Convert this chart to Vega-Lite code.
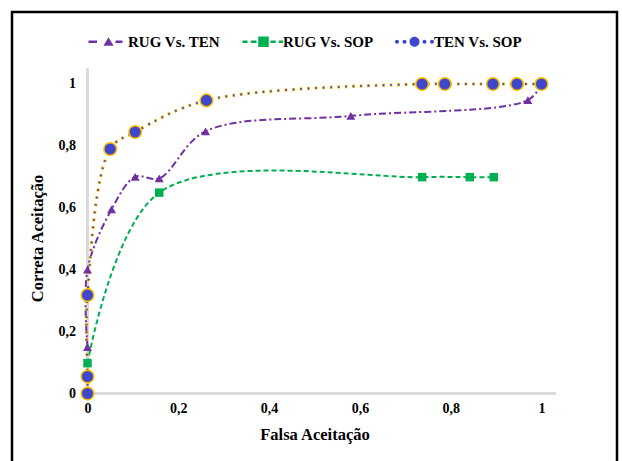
{
  "$schema": "https://vega.github.io/schema/vega-lite/v6.json",
  "width": 605,
  "height": 452,
  "autosize": {"type": "none"},
  "padding": {"left": 12, "top": 12, "right": 5, "bottom": 0},
  "background": "white",
  "config": {
    "view": {"stroke": "black", "strokeWidth": 2.5},
    "font": "Liberation Serif",
    "axis": {
      "labelFont": "Liberation Serif",
      "labelFontWeight": "bold",
      "labelFontSize": 14,
      "labelColor": "black",
      "titleFont": "Liberation Serif",
      "titleFontWeight": "bold",
      "titleFontSize": 16.5,
      "titleColor": "black",
      "grid": false,
      "domain": false,
      "ticks": false
    },
    "legend": {
      "labelFont": "Liberation Serif",
      "labelFontWeight": "bold",
      "labelFontSize": 15,
      "labelColor": "black"
    }
  },
  "data": {
    "values": [
      {"series": "RUG Vs. TEN", "i": 1, "x": 0, "y": 0.15},
      {"series": "RUG Vs. TEN", "i": 2, "x": 0, "y": 0.4},
      {"series": "RUG Vs. TEN", "i": 3, "x": 0.053, "y": 0.595},
      {"series": "RUG Vs. TEN", "i": 4, "x": 0.105, "y": 0.7},
      {"series": "RUG Vs. TEN", "i": 5, "x": 0.158, "y": 0.695},
      {"series": "RUG Vs. TEN", "i": 6, "x": 0.26, "y": 0.847},
      {"series": "RUG Vs. TEN", "i": 7, "x": 0.58, "y": 0.897},
      {"series": "RUG Vs. TEN", "i": 8, "x": 0.97, "y": 0.948},
      {"series": "RUG Vs. TEN", "i": 9, "x": 1, "y": 1},
      {"series": "RUG Vs. SOP", "i": 1, "x": 0, "y": 0.098},
      {"series": "RUG Vs. SOP", "i": 2, "x": 0.158, "y": 0.649},
      {"series": "RUG Vs. SOP", "i": 3, "x": 0.737, "y": 0.699},
      {"series": "RUG Vs. SOP", "i": 4, "x": 0.842, "y": 0.699},
      {"series": "RUG Vs. SOP", "i": 5, "x": 0.895, "y": 0.699},
      {"series": "TEN Vs. SOP", "i": 1, "x": 0, "y": 0},
      {"series": "TEN Vs. SOP", "i": 2, "x": 0, "y": 0.055},
      {"series": "TEN Vs. SOP", "i": 3, "x": 0, "y": 0.318},
      {"series": "TEN Vs. SOP", "i": 4, "x": 0.05, "y": 0.79},
      {"series": "TEN Vs. SOP", "i": 5, "x": 0.105, "y": 0.845},
      {"series": "TEN Vs. SOP", "i": 6, "x": 0.262, "y": 0.947},
      {"series": "TEN Vs. SOP", "i": 7, "x": 0.737, "y": 1},
      {"series": "TEN Vs. SOP", "i": 8, "x": 0.787, "y": 1},
      {"series": "TEN Vs. SOP", "i": 9, "x": 0.893, "y": 1},
      {"series": "TEN Vs. SOP", "i": 10, "x": 0.946, "y": 1},
      {"series": "TEN Vs. SOP", "i": 11, "x": 1, "y": 1}
    ]
  },
  "encoding": {
    "x": {
      "field": "x",
      "type": "quantitative",
      "scale": {"domain": [-0.1663, 1.1663], "nice": false, "zero": false},
      "axis": {
        "orient": "bottom",
        "offset": -70.5,
        "values": [0, 0.2, 0.4, 0.6, 0.8, 1],
        "labelExpr": "replace(format(datum.value, '~g'), '.', ',')",
        "labelPadding": 8,
        "title": "Falsa Aceitação",
        "titlePadding": 11
      }
    },
    "y": {
      "field": "y",
      "type": "quantitative",
      "scale": {"domain": [-0.2278, 1.2326], "nice": false, "zero": false},
      "axis": {
        "orient": "left",
        "offset": -75.5,
        "values": [0, 0.2, 0.4, 0.6, 0.8, 1],
        "labelExpr": "replace(format(datum.value, '~g'), '.', ',')",
        "labelPadding": 12,
        "title": "Correta Aceitação",
        "titlePadding": 13
      }
    }
  },
  "layer": [
    {
      "mark": {"type": "rule", "color": "#D9D9D9", "strokeWidth": 2},
      "encoding": {"x": {"datum": 0}, "x2": {"datum": 1.03}, "y": {"datum": 0}}
    },
    {
      "mark": {"type": "rule", "color": "#D9D9D9", "strokeWidth": 2},
      "encoding": {"y": {"datum": 0}, "y2": {"datum": 1.05}, "x": {"datum": 0}}
    },
    {
      "transform": [{"filter": "datum.series === 'RUG Vs. SOP'"}],
      "mark": {"type": "line", "interpolate": "catmull-rom", "color": "#00B050", "strokeWidth": 2, "strokeDash": [5, 3]},
      "encoding": {"order": {"field": "i", "type": "quantitative"}}
    },
    {
      "transform": [{"filter": "datum.series === 'RUG Vs. TEN'"}],
      "mark": {"type": "line", "interpolate": "catmull-rom", "color": "#7030A0", "strokeWidth": 2, "strokeDash": [7, 3, 2, 3]},
      "encoding": {"order": {"field": "i", "type": "quantitative"}}
    },
    {
      "transform": [{"filter": "datum.series === 'TEN Vs. SOP'"}],
      "mark": {"type": "line", "interpolate": "catmull-rom", "color": "#FFC000", "strokeWidth": 3.2, "strokeDash": [2.8, 4.7]},
      "encoding": {"order": {"field": "i", "type": "quantitative"}}
    },
    {
      "transform": [{"filter": "datum.series === 'TEN Vs. SOP'"}],
      "mark": {"type": "line", "interpolate": "catmull-rom", "color": "#3F48CC", "strokeWidth": 2, "strokeDash": [1.6, 5.9], "strokeDashOffset": -0.6},
      "encoding": {"order": {"field": "i", "type": "quantitative"}}
    },
    {
      "transform": [{"filter": "datum.series === 'RUG Vs. SOP'"}],
      "mark": {"type": "point", "shape": "square", "filled": true, "opacity": 1, "color": "#00B050", "size": 72}
    },
    {
      "transform": [{"filter": "datum.series === 'RUG Vs. TEN'"}],
      "mark": {"type": "point", "shape": "triangle-up", "filled": true, "opacity": 1, "color": "#7030A0", "size": 81}
    },
    {
      "transform": [{"filter": "datum.series === 'TEN Vs. SOP'"}],
      "mark": {"type": "point", "shape": "circle", "filled": true, "opacity": 1, "fill": "#3F48CC", "stroke": "#FFC000", "strokeWidth": 1.5, "size": 160}
    },
    {
      "mark": {"type": "point", "filled": true, "opacity": 0, "size": 64},
      "encoding": {
        "shape": {
          "field": "series",
          "type": "nominal",
          "scale": {
            "domain": ["RUG Vs. TEN", "RUG Vs. SOP", "TEN Vs. SOP"],
            "range": [
              "M-4,-0.25H-2.3V0.25H-4Z M-1,0.8L0,-0.9L1,0.8Z M1.4,-0.25H2.8V0.25H1.4Z",
              "M-4.2,-0.25H-3.2V0.25H-4.2Z M-2.55,-0.25H-1.4V0.25H-2.55Z M-1.05,-1.05H1.05V1.05H-1.05Z M1.4,-0.25H2.45V0.25H1.4Z M3.05,-0.25H3.9V0.25H3.05Z",
              "M-3.1,0A0.4,0.4 0 1,1 -3.9,0A0.4,0.4 0 1,1 -3.1,0Z M-1.6,0A0.4,0.4 0 1,1 -2.4,0A0.4,0.4 0 1,1 -1.6,0Z M1,0A1,1 0 1,1 -1,0A1,1 0 1,1 1,0Z M2.4,0A0.4,0.4 0 1,1 1.6,0A0.4,0.4 0 1,1 2.4,0Z M3.9,0A0.4,0.4 0 1,1 3.1,0A0.4,0.4 0 1,1 3.9,0Z"
            ]
          },
          "legend": {
            "title": null,
            "orient": "none",
            "direction": "horizontal",
            "legendX": 89,
            "legendY": 22,
            "padding": 0,
            "symbolOpacity": 1,
            "labelOffset": 12,
            "columnPadding": 18,
            "encode": {
              "symbols": {
                "update": {
                  "opacity": {"value": 1},
                  "stroke": {"signal": "datum.value === 'TEN Vs. SOP' ? '#FFC000' : 'transparent'"},
                  "strokeWidth": {"value": 0.8}
                }
              }
            }
          }
        },
        "fill": {
          "field": "series",
          "type": "nominal",
          "scale": {
            "domain": ["RUG Vs. TEN", "RUG Vs. SOP", "TEN Vs. SOP"],
            "range": ["#7030A0", "#00B050", "#3F48CC"]
          },
          "legend": null
        }
      }
    }
  ]
}
